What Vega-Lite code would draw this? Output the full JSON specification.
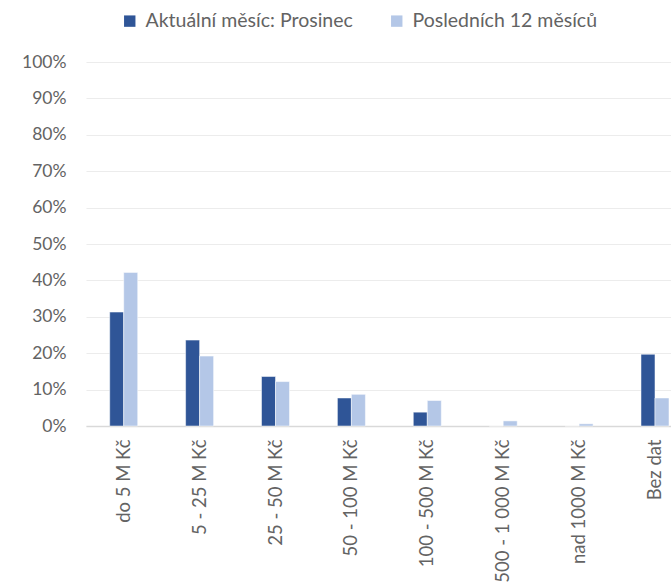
{
  "$schema": "https://vega.github.io/schema/vega-lite/v6.json",
  "autosize": {"type": "none"},
  "padding": {"left": 86, "top": 62, "right": 0, "bottom": 159},
  "width": 585,
  "height": 364,
  "background": "white",
  "config": {
    "view": {"stroke": null},
    "font": "Lato",
    "axis": {"labelColor": "#636363", "labelFont": "Lato", "titleColor": "#636363"},
    "legend": {"labelColor": "#636363", "labelFont": "Lato", "labelFontSize": 19.5, "labelLimit": 400}
  },
  "data": {
    "values": [
      {"kategorie": "do 5 M Kč", "serie": "Aktuální měsíc: Prosinec", "podil": 0.313},
      {"kategorie": "do 5 M Kč", "serie": "Posledních 12 měsíců", "podil": 0.422},
      {"kategorie": "5 - 25 M Kč", "serie": "Aktuální měsíc: Prosinec", "podil": 0.236},
      {"kategorie": "5 - 25 M Kč", "serie": "Posledních 12 měsíců", "podil": 0.192},
      {"kategorie": "25 - 50 M Kč", "serie": "Aktuální měsíc: Prosinec", "podil": 0.136},
      {"kategorie": "25 - 50 M Kč", "serie": "Posledních 12 měsíců", "podil": 0.122},
      {"kategorie": "50 - 100 M Kč", "serie": "Aktuální měsíc: Prosinec", "podil": 0.077},
      {"kategorie": "50 - 100 M Kč", "serie": "Posledních 12 měsíců", "podil": 0.087},
      {"kategorie": "100 - 500 M Kč", "serie": "Aktuální měsíc: Prosinec", "podil": 0.038},
      {"kategorie": "100 - 500 M Kč", "serie": "Posledních 12 měsíců", "podil": 0.070},
      {"kategorie": "500 - 1 000 M Kč", "serie": "Aktuální měsíc: Prosinec", "podil": 0.0},
      {"kategorie": "500 - 1 000 M Kč", "serie": "Posledních 12 měsíců", "podil": 0.014},
      {"kategorie": "nad 1000 M Kč", "serie": "Aktuální měsíc: Prosinec", "podil": 0.0},
      {"kategorie": "nad 1000 M Kč", "serie": "Posledních 12 měsíců", "podil": 0.006},
      {"kategorie": "Bez dat", "serie": "Aktuální měsíc: Prosinec", "podil": 0.197},
      {"kategorie": "Bez dat", "serie": "Posledních 12 měsíců", "podil": 0.077}
    ]
  },
  "mark": {"type": "bar", "stroke": "white", "strokeWidth": 0.5},
  "encoding": {
    "x": {
      "field": "kategorie",
      "type": "nominal",
      "sort": null,
      "scale": {"paddingInner": 0.631, "paddingOuter": 0.1694, "align": 0.922},
      "axis": {
        "title": null,
        "labelAngle": -90,
        "labelAlign": "right",
        "labelBaseline": "middle",
        "labelPadding": 13,
        "labelFontSize": 18.5,
        "labelLimit": 300,
        "ticks": false,
        "domainColor": "#d9d9d9",
        "domainWidth": 1.5,
        "grid": false
      }
    },
    "xOffset": {"field": "serie", "type": "nominal", "sort": null},
    "y": {
      "field": "podil",
      "type": "quantitative",
      "scale": {"domain": [0, 1]},
      "axis": {
        "title": null,
        "format": ".0%",
        "values": [0, 0.1, 0.2, 0.3, 0.4, 0.5, 0.6, 0.7, 0.8, 0.9, 1],
        "ticks": false,
        "domain": false,
        "labelPadding": 20,
        "labelFontSize": 17.5,
        "gridColor": "#ececec",
        "gridWidth": 1.2
      }
    },
    "color": {
      "field": "serie",
      "type": "nominal",
      "sort": null,
      "scale": {"range": ["#2F5597", "#B4C7E7"]},
      "legend": {
        "title": null,
        "orient": "none",
        "direction": "horizontal",
        "legendX": 34,
        "legendY": -51,
        "symbolType": "square",
        "symbolSize": 130,
        "symbolStrokeWidth": 0,
        "labelOffset": 6,
        "columnPadding": 34
      }
    }
  }
}
